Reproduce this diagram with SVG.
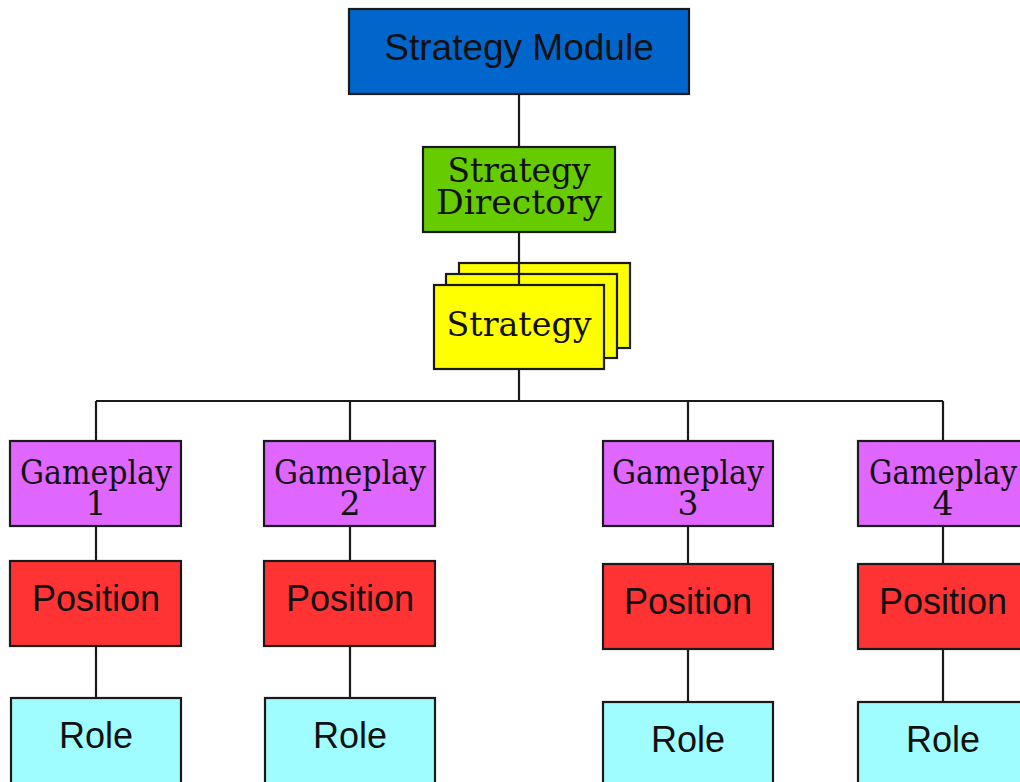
<svg xmlns="http://www.w3.org/2000/svg" width="1020" height="782" viewBox="0 0 1020 782">
<style>
.box{stroke:#1a1a1a;stroke-width:2.2}
.sans{font-family:"Liberation Sans",Arial,sans-serif;fill:#111;text-anchor:middle}
.serif{font-family:"DejaVu Serif","Liberation Serif",serif;fill:#111;text-anchor:middle}
.blue{fill:#0066cc}.green{fill:#66cc00}.yellow{fill:#ffff00}.purple{fill:#df66ff}.red{fill:#ff3333}.cyan{fill:#9ffcff}
.conn{stroke:#1a1a1a;stroke-width:2.2;fill:none}
</style>
<rect width="1020" height="782" fill="#ffffff"/>
<g id="connectors">
<line class="conn" x1="519" y1="94" x2="519" y2="147"/>
<path class="conn" d="M519 369 V401 M96 401 H943 M96 401 V441 M350 401 V441 M688 401 V441 M943 401 V441"/>
<path class="conn" d="M96 526 V561 M96 646 V698 M350 526 V561 M350 646 V698 M688 526 V564 M688 649 V702 M943 526 V564 M943 649 V702"/>
</g>
<g id="strategy-module">
<rect class="box blue" x="349" y="9" width="340" height="85"/>
<text class="sans" x="519" y="60" font-size="37">Strategy Module</text>
</g>
<g id="strategy-directory">
<rect class="box green" x="423" y="147" width="192" height="85"/>
<text class="serif" x="519" y="182" font-size="34" textLength="143" lengthAdjust="spacingAndGlyphs">Strategy</text>
<text class="serif" x="519" y="214" font-size="34" textLength="166" lengthAdjust="spacingAndGlyphs">Directory</text>
</g>
<g id="strategy">
<rect class="box yellow" x="459" y="263" width="171" height="85"/>
<rect class="box yellow" x="446" y="274" width="171" height="84"/>
<line class="conn" x1="519" y1="232" x2="519" y2="285"/>
<rect class="box yellow" x="434" y="285" width="170" height="84"/>
<text class="serif" x="519" y="336" font-size="34" textLength="145" lengthAdjust="spacingAndGlyphs">Strategy</text>
</g>
<g id="gameplay-1">
<rect class="box purple" x="10" y="441" width="171" height="85"/>
<text class="serif" x="96" y="484" font-size="33" textLength="152" lengthAdjust="spacingAndGlyphs">Gameplay</text>
<text class="serif" x="96" y="515" font-size="33">1</text>
</g>
<g id="gameplay-2">
<rect class="box purple" x="264" y="441" width="171" height="85"/>
<text class="serif" x="350" y="484" font-size="33" textLength="152" lengthAdjust="spacingAndGlyphs">Gameplay</text>
<text class="serif" x="350" y="515" font-size="33">2</text>
</g>
<g id="gameplay-3">
<rect class="box purple" x="603" y="441" width="170" height="85"/>
<text class="serif" x="688" y="484" font-size="33" textLength="152" lengthAdjust="spacingAndGlyphs">Gameplay</text>
<text class="serif" x="688" y="515" font-size="33">3</text>
</g>
<g id="gameplay-4">
<rect class="box purple" x="858" y="441" width="171" height="85"/>
<text class="serif" x="943" y="484" font-size="33" textLength="148" lengthAdjust="spacingAndGlyphs">Gameplay</text>
<text class="serif" x="943" y="515" font-size="33">4</text>
</g>
<g id="position-1">
<rect class="box red" x="10" y="561" width="171" height="85"/>
<text class="sans" x="96" y="611" font-size="36">Position</text>
</g>
<g id="position-2">
<rect class="box red" x="264" y="561" width="171" height="85"/>
<text class="sans" x="350" y="611" font-size="36">Position</text>
</g>
<g id="position-3">
<rect class="box red" x="603" y="564" width="170" height="85"/>
<text class="sans" x="688" y="614" font-size="36">Position</text>
</g>
<g id="position-4">
<rect class="box red" x="858" y="564" width="171" height="85"/>
<text class="sans" x="943" y="614" font-size="36">Position</text>
</g>
<g id="role-1">
<rect class="box cyan" x="11" y="698" width="170" height="90"/>
<text class="sans" x="96" y="748" font-size="36">Role</text>
</g>
<g id="role-2">
<rect class="box cyan" x="265" y="698" width="170" height="90"/>
<text class="sans" x="350" y="748" font-size="36">Role</text>
</g>
<g id="role-3">
<rect class="box cyan" x="603" y="702" width="170" height="90"/>
<text class="sans" x="688" y="752" font-size="36">Role</text>
</g>
<g id="role-4">
<rect class="box cyan" x="858" y="702" width="171" height="90"/>
<text class="sans" x="943" y="752" font-size="36">Role</text>
</g>
</svg>
